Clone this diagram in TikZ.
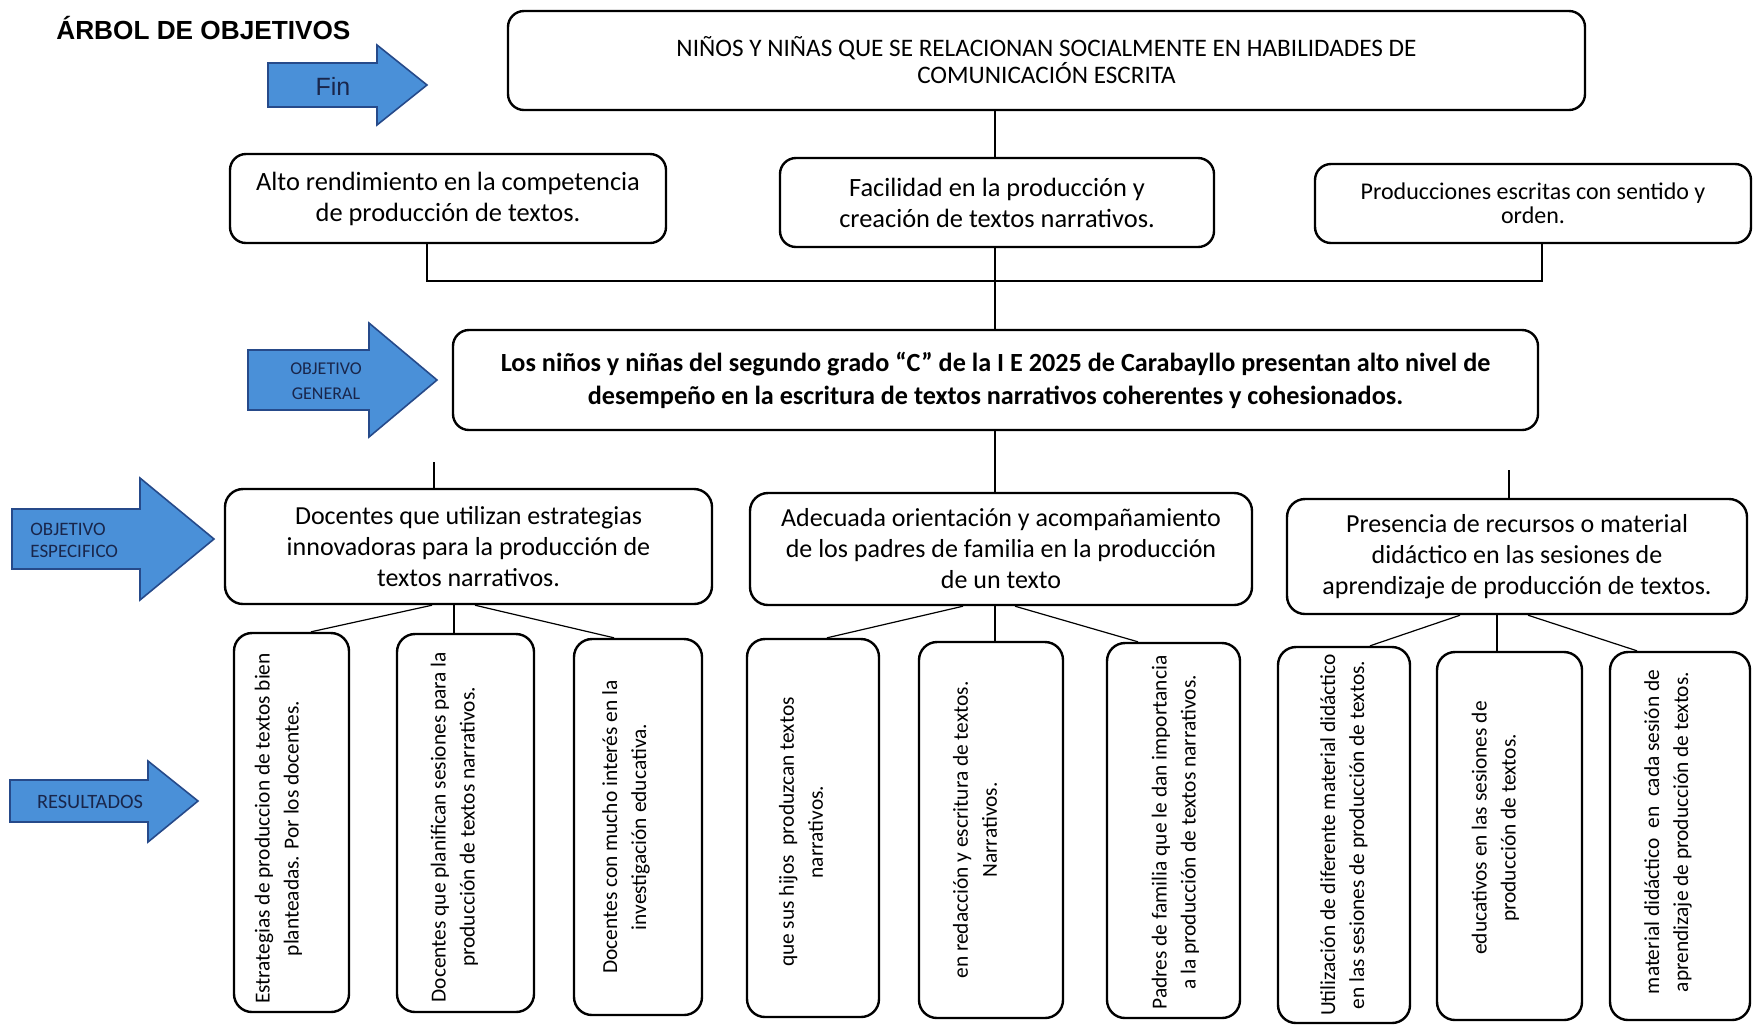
\documentclass[tikz,border=0pt]{standalone}
\usepackage{fontspec}
\setmainfont{Carlito}
\newfontfamily\arialfont{Liberation Sans}
\usetikzlibrary{calc}
\pgfdeclarelayer{bg}
\pgfsetlayers{bg,main}
\definecolor{arrowfill}{RGB}{74,144,216}
\definecolor{arrowline}{RGB}{38,74,138}
\definecolor{navy}{RGB}{25,38,75}
\begin{document}
\begin{tikzpicture}[x=0.5pt, y=-0.5pt,
  box/.style={draw, line width=1.2pt, rounded corners=8pt, fill=white, align=center, inner sep=0pt},
  dbox/.style={box, rounded corners=9pt, font=\fontsize{13}{15.5}\selectfont},
  rbox/.style={draw, line width=1.2pt, rounded corners=9pt, fill=white, inner sep=0pt},
  rtxt/.style={rotate=90, align=center, inner sep=0pt, font=\fontsize{10.7}{14.5}\selectfont},
  conn/.style={line width=0.6pt},
  arrowshape/.style={fill=arrowfill, draw=arrowline, line width=0.8pt, line join=miter},
  arrtxt/.style={text=navy, inner sep=0pt}
]
\useasboundingbox (0,0) rectangle (1754,1025);

% title
\node[anchor=west, inner sep=0pt, font=\arialfont\bfseries\fontsize{13.1}{15}\selectfont] (title) at (56,28) {ÁRBOL DE OBJETIVOS};

% side arrows
\draw[arrowshape] (268,63) -- (377,63) -- (377,45) -- (427,85) -- (377,125) -- (377,107) -- (268,107) -- cycle;
\node[arrtxt, font=\arialfont\fontsize{12.5}{14}\selectfont] (fin) at (333,86) {Fin};

\draw[arrowshape] (248,350) -- (369,350) -- (369,323) -- (437,380) -- (369,437) -- (369,410) -- (248,410) -- cycle;
\node[arrtxt, align=center, font=\fontsize{9}{12.5}\selectfont] (og) at (326,381) {OBJETIVO\\GENERAL};

\draw[arrowshape] (12,509) -- (140,509) -- (140,478) -- (214,539) -- (140,600) -- (140,569) -- (12,569) -- cycle;
\node[arrtxt, anchor=west, align=left, font=\fontsize{9.5}{11}\selectfont] (oe) at (30,540) {OBJETIVO\\ESPECIFICO};

\draw[arrowshape] (10,780) -- (148,780) -- (148,761) -- (198,801) -- (148,842) -- (148,822) -- (10,822) -- cycle;
\node[arrtxt, font=\fontsize{10.2}{12}\selectfont] (res) at (90,802) {RESULTADOS};

% top box
\node[box, minimum width=538.5pt, minimum height=49.5pt, font=\fontsize{12.6}{13.5}\selectfont] (top) at (1046.5,60.5)
  {NIÑOS Y NIÑAS QUE SE RELACIONAN SOCIALMENTE EN HABILIDADES DE\\COMUNICACIÓN ESCRITA};

% middle row
\node[box, minimum width=218pt, minimum height=44.5pt, font=\fontsize{13.2}{15.5}\selectfont] (a) at (448,198.5)
  {Alto rendimiento en la competencia\\de producción de textos.};
\node[box, minimum width=217pt, minimum height=44.5pt, font=\fontsize{13.2}{15.5}\selectfont] (b) at (997,202.5)
  {Facilidad en la producción y\\creación de textos narrativos.};
\node[box, minimum width=218pt, minimum height=39.5pt, font=\fontsize{12}{12}\selectfont] (c) at (1533,203.5)
  {Producciones escritas con sentido y\\orden.};

% general objective
\node[box, minimum width=542.5pt, minimum height=50pt, font=\bfseries\fontsize{13.1}{16.5}\selectfont] (gen) at (995.5,380)
  {Los niños y niñas del segundo grado “C” de la I E 2025 de Carabayllo presentan alto nivel de\\desempeño en la escritura de textos narrativos coherentes y cohesionados.};

% specific objectives
\node[dbox, minimum width=243.5pt, minimum height=57.5pt] (d1) at (468.5,546.5)
  {Docentes que utilizan estrategias\\innovadoras para la producción de\\textos narrativos.};
\node[dbox, minimum width=251pt, minimum height=56pt] (d2) at (1001,549)
  {Adecuada orientación y acompañamiento\\de los padres de familia en la producción\\de un texto};
\node[dbox, minimum width=230pt, minimum height=57.5pt] (d3) at (1517,556.5)
  {Presencia de recursos o material\\didáctico en las sesiones de\\aprendizaje de producción de textos.};

% results boxes
\node[rbox, minimum width=57.5pt, minimum height=189.5pt] (r1) at (291.5,822.5) {};
\node[rbox, minimum width=68.5pt, minimum height=189pt] (r2) at (465.5,823) {};
\node[rbox, minimum width=64pt, minimum height=188pt] (r3) at (638,827) {};
\node[rbox, minimum width=66pt, minimum height=189pt] (r4) at (813,828) {};
\node[rbox, minimum width=72pt, minimum height=188pt] (r5) at (991,830) {};
\node[rbox, minimum width=66.5pt, minimum height=187.5pt] (r6) at (1173.5,830.5) {};
\node[rbox, minimum width=66pt, minimum height=188pt] (r7) at (1344,835) {};
\node[rbox, minimum width=72.5pt, minimum height=184pt] (r8) at (1509.5,836) {};
\node[rbox, minimum width=70pt, minimum height=184pt] (r9) at (1680,836) {};

\node[rtxt] (r1t) at ([xshift=-6.5pt, yshift=-3pt]r1.center) {Estrategias de produccion de textos bien\\planteadas. Por los docentes.};
\node[rtxt] (r2t) at ([xshift=-5.5pt, yshift=-2pt]r2.center) {Docentes que planifican sesiones para la\\producción de textos narrativos.};
\node[rtxt] (r3t) at ([xshift=-6pt]r3.center) {Docentes con mucho interés en la\\investigación educativa.};
\node[rtxt] (r4t) at ([xshift=-6pt, yshift=-2pt]r4.center) {que sus hijos\ \ produzcan textos\\narrativos.};
\node[rtxt] (r5t) at ([xshift=-8pt]r5.center) {en redacción y escritura de textos.\\Narrativos.};
\node[rtxt] (r6t) at ([xshift=1pt, yshift=-1pt]r6.center) {Padres de familia que le dan importancia\\a la producción de textos narrativos.};
\node[rtxt] (r7t) at ([xshift=0pt]r7.center) {Utilización de diferente material didáctico\\en las sesiones de producción de textos.};
\node[rtxt] (r8t) at ([xshift=-7pt, yshift=4pt]r8.center) {educativos en las sesiones de\\producción de textos.};
\node[rtxt] (r9t) at ([xshift=-6pt, yshift=2pt]r9.center) {material didáctico\ \ en\ \ cada sesión de\\aprendizaje de producción de textos.};

% connectors
\begin{pgfonlayer}{bg}
\coordinate (cx) at (995,0);
\draw[conn] (top.south -| cx) -- (gen.north -| cx);
\draw[conn] (gen.south -| cx) -- (d2.north -| cx);
\coordinate (aj) at (427,281);
\coordinate (cj) at (1542,281);
\draw[conn] (a.south -| aj) -- (aj) -- (cj) -- (c.south -| cj);
\coordinate (s1) at (434,462);
\draw[conn] (s1) -- (d1.north -| s1);
\coordinate (s3) at (1509,470);
\draw[conn] (s3) -- (d3.north -| s3);
% fans
\draw[conn] ([xshift=-18.25pt]d1.south) -- ([xshift=9.75pt]r1.north);
\draw[conn] ([xshift=-7.25pt]d1.south) -- ([xshift=-5.75pt]r2.north);
\draw[conn] ([xshift=3.25pt]d1.south) -- ([xshift=-12pt]r3.north);
\draw[conn] ([xshift=-19pt]d2.south) -- ([xshift=7pt]r4.north);
\draw[conn] ([xshift=-3pt]d2.south) -- ([xshift=2pt]r5.north);
\draw[conn] ([xshift=7pt]d2.south) -- ([xshift=-17.75pt]r6.north);
\draw[conn] ([xshift=-28.5pt]d3.south) -- ([xshift=13pt]r7.north);
\draw[conn] ([xshift=-10pt]d3.south) -- ([xshift=-6.25pt]r8.north);
\draw[conn] ([xshift=5.5pt]d3.south) -- ([xshift=-21.5pt]r9.north);
\end{pgfonlayer}
\end{tikzpicture}
\end{document}
